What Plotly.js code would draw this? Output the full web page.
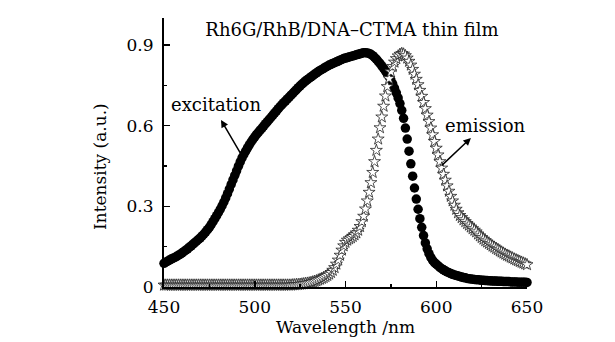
<!DOCTYPE html>
<html>
<head>
<meta charset="utf-8">
<script src="https://cdn.plot.ly/plotly-3.0.1.min.js"></script>
<style>html,body{margin:0;padding:0;background:#fff;}#chart{width:615px;height:342px;}</style>
</head>
<body>
<div id="chart"></div>
<script>
const wavelength = [
450,451,452,453,454,455,456,457,458,459,460,461,462,463,464,465,466,467,468,469,
470,471,472,473,474,475,476,477,478,479,480,481,482,483,484,485,486,487,488,489,
490,491,492,493,494,495,496,497,498,499,500,501,502,503,504,505,506,507,508,509,
510,511,512,513,514,515,516,517,518,519,520,521,522,523,524,525,526,527,528,529,
530,531,532,533,534,535,536,537,538,539,540,541,542,543,544,545,546,547,548,549,
550,551,552,553,554,555,556,557,558,559,560,561,562,563,564,565,566,567,568,569,
570,571,572,573,574,575,576,577,578,579,580,581,582,583,584,585,586,587,588,589,
590,591,592,593,594,595,596,597,598,599,600,601,602,603,604,605,606,607,608,609,
610,611,612,613,614,615,616,617,618,619,620,621,622,623,624,625,626,627,628,629,
630,631,632,633,634,635,636,637,638,639,640,641,642,643,644,645,646,647,648,649,
650];

const excitation = [
0.088,0.092,0.096,0.100,0.104,0.107,0.110,0.114,0.118,0.122,
0.127,0.132,0.137,0.142,0.148,0.153,0.159,0.165,0.171,0.177,
0.183,0.190,0.197,0.205,0.213,0.222,0.232,0.243,0.254,0.265,
0.277,0.289,0.302,0.316,0.331,0.347,0.364,0.381,0.398,0.415,
0.432,0.449,0.465,0.480,0.493,0.505,0.517,0.528,0.539,0.549,
0.558,0.567,0.575,0.583,0.591,0.599,0.607,0.615,0.623,0.631,
0.639,0.647,0.655,0.663,0.671,0.678,0.685,0.692,0.699,0.706,
0.713,0.720,0.727,0.734,0.741,0.748,0.754,0.760,0.766,0.771,
0.776,0.781,0.786,0.791,0.796,0.801,0.805,0.809,0.813,0.817,
0.821,0.825,0.828,0.831,0.834,0.837,0.840,0.843,0.846,0.849,
0.851,0.853,0.855,0.857,0.859,0.861,0.863,0.865,0.867,0.869,
0.871,0.871,0.870,0.868,0.865,0.860,0.854,0.847,0.839,0.831,
0.822,0.813,0.803,0.793,0.782,0.769,0.755,0.739,0.722,0.703,
0.682,0.657,0.627,0.591,0.550,0.505,0.458,0.412,0.368,0.327,
0.289,0.254,0.222,0.191,0.164,0.142,0.124,0.110,0.099,0.091,
0.085,0.079,0.073,0.068,0.064,0.060,0.056,0.053,0.050,0.047,
0.045,0.043,0.041,0.039,0.037,0.035,0.034,0.032,0.031,0.030,
0.029,0.028,0.027,0.027,0.026,0.025,0.025,0.024,0.024,0.023,
0.023,0.022,0.022,0.022,0.021,0.021,0.021,0.020,0.020,0.020,
0.020,0.019,0.019,0.019,0.019,0.018,0.018,0.018,0.018,0.018,
0.017];

const emission = [
0.007,0.007,0.007,0.007,0.007,0.007,0.007,0.007,0.007,0.007,
0.007,0.007,0.007,0.007,0.007,0.007,0.007,0.007,0.007,0.007,
0.007,0.007,0.007,0.007,0.007,0.007,0.007,0.007,0.007,0.007,
0.007,0.007,0.007,0.007,0.007,0.007,0.007,0.007,0.007,0.007,
0.007,0.007,0.007,0.007,0.007,0.007,0.007,0.007,0.007,0.007,
0.007,0.007,0.007,0.007,0.007,0.007,0.007,0.007,0.007,0.007,
0.007,0.007,0.007,0.007,0.007,0.007,0.007,0.007,0.007,0.007,
0.007,0.008,0.008,0.009,0.009,0.010,0.011,0.012,0.013,0.014,
0.015,0.017,0.019,0.021,0.023,0.026,0.029,0.032,0.035,0.039,
0.043,0.048,0.054,0.062,0.072,0.085,0.100,0.118,0.137,0.153,
0.166,0.174,0.179,0.183,0.188,0.194,0.201,0.211,0.225,0.243,
0.263,0.290,0.320,0.352,0.388,0.426,0.466,0.508,0.550,0.592,
0.632,0.672,0.710,0.745,0.775,0.800,0.820,0.836,0.849,0.859,
0.865,0.868,0.866,0.860,0.851,0.839,0.825,0.809,0.791,0.772,
0.752,0.731,0.709,0.686,0.663,0.639,0.615,0.591,0.566,0.541,
0.516,0.491,0.466,0.442,0.419,0.397,0.376,0.356,0.337,0.320,
0.304,0.289,0.276,0.266,0.258,0.250,0.243,0.236,0.230,0.223,
0.217,0.211,0.205,0.197,0.190,0.184,0.178,0.172,0.167,0.162,
0.157,0.152,0.148,0.143,0.139,0.134,0.130,0.126,0.122,0.118,
0.115,0.111,0.108,0.104,0.101,0.098,0.095,0.092,0.089,0.086,
0.083];

const xTicks = [450, 500, 550, 600, 650];
const yTicks = [0, 0.3, 0.6, 0.9];
const yTickText = ['0', '0.3', '0.6', '0.9'];

const FONT = 'DejaVu Serif, Liberation Serif, serif';

const traces = [
  {
    x: wavelength, y: excitation, name: 'excitation',
    type: 'scatter', mode: 'markers', cliponaxis: false,
    marker: {symbol: 'circle', size: 9.5, color: '#000', line: {width: 0}}
  },
  {
    x: wavelength, y: emission, name: 'emission',
    type: 'scatter', mode: 'markers', cliponaxis: false,
    marker: {symbol: 'star', size: 9, color: '#fff', line: {width: 0.8, color: '#222'}}
  }
];

const layout = {
  width: 615, height: 342,
  margin: {l: 164, r: 88, t: 18, b: 55, pad: 0},
  paper_bgcolor: '#fff', plot_bgcolor: '#fff',
  showlegend: false,
  font: {family: FONT, color: '#000', size: 16},
  title: {
    text: 'Rh6G/RhB/DNA\u2013CTMA thin film',
    font: {family: FONT, size: 18, color: '#000'},
    xref: 'container', yref: 'container',
    x: 352 / 615, xanchor: 'center',
    y: 1 - 30 / 342, yanchor: 'middle'
  },
  xaxis: {
    range: [450, 650],
    tickmode: 'array', tickvals: xTicks,
    ticks: 'inside', ticklen: 6, tickwidth: 1.5, tickcolor: '#000',
    ticklabelstandoff: 4,
    minor: {tickmode: 'array', tickvals: [475, 525, 575, 625], ticks: 'inside', ticklen: 3, tickwidth: 1.5, tickcolor: '#000', showgrid: false},
    showline: true, linewidth: 2, linecolor: '#000',
    showgrid: false, zeroline: false,
    tickfont: {family: FONT, size: 17, color: '#000'},
    title: {text: 'Wavelength /nm', font: {family: FONT, size: 17, color: '#000'}, standoff: 4}
  },
  yaxis: {
    range: [0, 1.0],
    tickmode: 'array', tickvals: yTicks, ticktext: yTickText,
    ticks: 'inside', ticklen: 6, tickwidth: 1.5, tickcolor: '#000',
    ticklabelstandoff: 5,
    minor: {tickmode: 'array', tickvals: [0.15, 0.45, 0.75], ticks: 'inside', ticklen: 3, tickwidth: 1.5, tickcolor: '#000', showgrid: false},
    showline: true, linewidth: 2, linecolor: '#000',
    showgrid: false, zeroline: false,
    tickfont: {family: FONT, size: 17, color: '#000'}
  },
  annotations: [
    {
      xref: 'paper', yref: 'paper', x: (100 - 164) / 363, y: (287 - 167) / 269,
      text: 'Intensity (a.u.)', textangle: -90, showarrow: false,
      font: {family: FONT, size: 17, color: '#000'}, xanchor: 'center', yanchor: 'middle'
    },
    {
      xref: 'x', yref: 'y', x: 478.9, y: 0.677,
      text: 'excitation', showarrow: false,
      font: {family: FONT, size: 18, color: '#000'}, xanchor: 'center', yanchor: 'middle'
    },
    {
      xref: 'x', yref: 'y', x: 627.4, y: 0.599,
      text: 'emission', showarrow: false,
      font: {family: FONT, size: 18, color: '#000'}, xanchor: 'center', yanchor: 'middle'
    },
    {
      xref: 'x', yref: 'y', x: 481.4, y: 0.621,
      axref: 'x', ayref: 'y', ax: 492.4, ay: 0.494,
      text: '', showarrow: true, arrowhead: 2, arrowsize: 1, arrowwidth: 1.5, arrowcolor: '#000'
    },
    {
      xref: 'x', yref: 'y', x: 619.1, y: 0.554,
      axref: 'x', ayref: 'y', ax: 602.1, ay: 0.446,
      text: '', showarrow: true, arrowhead: 2, arrowsize: 1, arrowwidth: 1.5, arrowcolor: '#000'
    }
  ]
};

Plotly.newPlot('chart', traces, layout, {displayModeBar: false, staticPlot: true});
</script>
</body>
</html>
